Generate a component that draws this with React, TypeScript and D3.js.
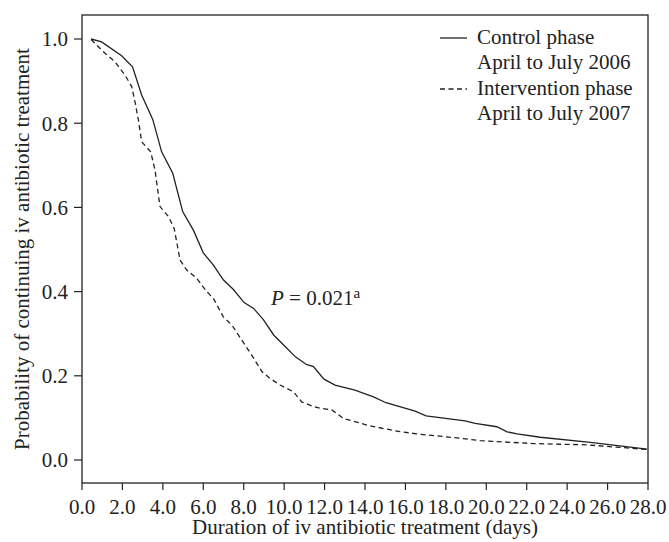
import React from 'react';
import * as d3 from 'd3';

// Kaplan-Meier style curves (days, probability)
const controlDays = [0.45, 0.97, 1.96, 2.5, 2.95, 3.5, 3.94, 4.49, 4.98, 5.51, 6.0, 6.5, 6.99, 7.49, 8.02, 8.49, 8.98, 9.48, 10.06, 10.56, 11.1, 11.45, 11.97, 12.52, 13.5, 14.42, 15.04, 16.48, 17.02, 18.95, 19.45, 20.52, 21.03, 21.52, 22.67, 25.15, 27.95];
const controlProb = [1.0, 0.993, 0.96, 0.934, 0.867, 0.809, 0.732, 0.681, 0.59, 0.546, 0.492, 0.463, 0.428, 0.405, 0.374, 0.36, 0.333, 0.297, 0.269, 0.245, 0.227, 0.222, 0.192, 0.178, 0.166, 0.15, 0.136, 0.116, 0.105, 0.093, 0.087, 0.079, 0.067, 0.062, 0.054, 0.042, 0.026];

const interventionDays = [0.45, 1.14, 1.63, 2.13, 2.46, 2.62, 2.79, 2.95, 3.4, 3.61, 3.86, 4.28, 4.56, 4.85, 5.18, 5.67, 6.17, 6.5, 6.99, 7.41, 7.9, 8.4, 8.9, 9.3, 9.8, 10.46, 10.87, 11.45, 11.78, 12.36, 12.93, 14.09, 15.4, 16.56, 18.86, 19.69, 22.33, 24.97, 27.95];
const interventionProb = [0.999, 0.966, 0.946, 0.914, 0.887, 0.851, 0.808, 0.756, 0.732, 0.689, 0.602, 0.578, 0.55, 0.475, 0.451, 0.432, 0.4, 0.384, 0.34, 0.321, 0.285, 0.249, 0.21, 0.194, 0.178, 0.162, 0.138, 0.127, 0.123, 0.119, 0.099, 0.083, 0.07, 0.062, 0.051, 0.046, 0.039, 0.036, 0.025];

const xTicks = d3.range(0, 28.1, 2);
const yTicks = [0, 0.2, 0.4, 0.6, 0.8, 1.0];

const legendLabels = [
  ['Control phase', 'April to July 2006'],
  ['Intervention phase', 'April to July 2007'],
];

const font = '"Liberation Serif", "Times New Roman", serif';
const ink = '#222';
const fs = 21;

const App = () => {
  const width = 669;
  const height = 542;
  const left = 82, right = 648, top = 15, bottom = 483;

  const x = d3.scaleLinear().domain([0, 28]).range([left, right]);
  const y = d3.scaleLinear().domain([0, 1]).range([460, 39]);

  const line = d3.line<[number, number]>()
    .x(d => x(d[0]))
    .y(d => y(d[1]));

  const control = controlDays.map((d, i) => [d, controlProb[i]] as [number, number]);
  const intervention = interventionDays.map((d, i) => [d, interventionProb[i]] as [number, number]);

  return (
    <svg width={width} height={height} style={{ position: 'absolute', left: 0, top: 0 }}
         fontFamily={font} fill={ink}>
      <rect x={0} y={0} width={width} height={height} fill="#fff" />
      <rect x={left} y={top} width={right - left} height={bottom - top}
            fill="none" stroke={ink} strokeWidth={1.3} />

      {/* y axis */}
      {yTicks.map(t => (
        <g key={t}>
          <line x1={left - 8} x2={left} y1={y(t)} y2={y(t)} stroke={ink} strokeWidth={1.2} />
          <text x={68} y={y(t)} dy="0.35em" textAnchor="end" fontSize={fs}>
            {d3.format('.1f')(t)}
          </text>
        </g>
      ))}

      {/* x axis */}
      {xTicks.map(t => (
        <g key={t}>
          <line x1={x(t)} x2={x(t)} y1={bottom} y2={bottom + 7} stroke={ink} strokeWidth={1.2} />
          <text x={x(t)} y={514} textAnchor="middle" fontSize={fs}>
            {d3.format('.1f')(t)}
          </text>
        </g>
      ))}

      <text x={(left + right) / 2} y={534} textAnchor="middle" fontSize={fs}>
        Duration of iv antibiotic treatment (days)
      </text>
      <text transform={`translate(29,249) rotate(-90)`} textAnchor="middle" fontSize={fs}>
        Probability of continuing iv antibiotic treatment
      </text>

      <path d={line(control) || ''} fill="none" stroke={ink} strokeWidth={1.3} />
      <path d={line(intervention) || ''} fill="none" stroke={ink} strokeWidth={1.3} strokeDasharray="5,3.5" />

      {/* legend */}
      {legendLabels.map((lab, i) => (
        <g key={i} transform={`translate(0,${i * 51})`}>
          <line x1={440} x2={467} y1={38} y2={38} stroke={ink} strokeWidth={1.3}
                strokeDasharray={i === 1 ? '5,3.5' : undefined} />
          <text x={477} y={44} fontSize={fs}>{lab[0]}</text>
          <text x={477} y={69} fontSize={fs}>{lab[1]}</text>
        </g>
      ))}

      <text x={271} y={305} fontSize={fs}>
        <tspan fontStyle="italic">P</tspan>
        <tspan> = 0.021</tspan>
        <tspan fontSize={15} dy={-7}>a</tspan>
      </text>
    </svg>
  );
};

export default App;
